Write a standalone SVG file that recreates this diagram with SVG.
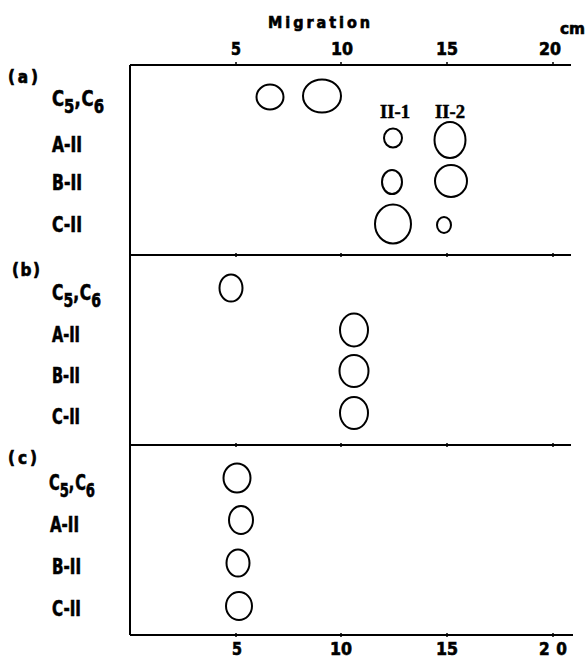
<svg xmlns="http://www.w3.org/2000/svg" width="587" height="659" viewBox="0 0 587 659">
<style>
.ax{stroke:#000;stroke-width:2;fill:none}
.tk{stroke:#000;stroke-width:1.5}
.sp{stroke:#000;stroke-width:2;fill:none}
.t{font-family:"Liberation Sans Narrow","DejaVu Sans Condensed","Liberation Sans",sans-serif;font-weight:bold;fill:#000;stroke:#000;stroke-width:0.6}
.lb{font-size:21px}
.sb{font-size:19px}
.n{font-size:17px;text-anchor:middle}
.p{font-size:17px}
.r{font-family:"Liberation Serif","DejaVu Serif",serif;font-weight:bold;font-size:19px;fill:#000;stroke:#000;stroke-width:0.5}
</style>
<rect width="587" height="659" fill="#fff"/>
<g id="axes">
<path class="ax" d="M130,65V635M130,65H571M130,255H571M130,445H571M130,635H573"/>
<path class="tk" d="M236,62V66M341,62V66M447,62V66M553,62V66M236,253V257M341,253V257M447,253V257M553,253V257M236,443V447M341,443V447M447,443V447M553,443V447M236,633V637M341,633V637M447,633V637M553,633V637"/>
</g>
<g id="scale">
<text class="t" x="268" y="28" font-size="16" textLength="102" lengthAdjust="spacing">Migration</text>
<text class="t" x="560" y="34" font-size="16" textLength="25" lengthAdjust="spacingAndGlyphs">cm</text>
<text class="t n" x="236" y="55" textLength="10" lengthAdjust="spacingAndGlyphs">5</text>
<text class="t n" x="342" y="55" textLength="22" lengthAdjust="spacingAndGlyphs">10</text>
<text class="t n" x="447" y="55" textLength="22" lengthAdjust="spacingAndGlyphs">15</text>
<text class="t n" x="550" y="55" textLength="22" lengthAdjust="spacingAndGlyphs">20</text>
<text class="t n" x="237" y="655" textLength="10" lengthAdjust="spacingAndGlyphs">5</text>
<text class="t n" x="341" y="655" textLength="22" lengthAdjust="spacingAndGlyphs">10</text>
<text class="t n" x="447" y="655" textLength="22" lengthAdjust="spacingAndGlyphs">15</text>
<text class="t n" x="553" y="655" textLength="28" lengthAdjust="spacing">20</text>
</g>
<g id="panel-a">
<text class="t p" x="8" y="83" textLength="30" lengthAdjust="spacing">(a)</text>
<text class="t lb" x="52" y="106" textLength="52" lengthAdjust="spacingAndGlyphs">C<tspan class="sb" dy="7">5</tspan><tspan dy="-7">,</tspan><tspan dx="1">C</tspan><tspan class="sb" dy="7">6</tspan></text>
<text class="t lb" x="52" y="152" textLength="30" lengthAdjust="spacingAndGlyphs">A-II</text>
<text class="t lb" x="52" y="190" textLength="30" lengthAdjust="spacingAndGlyphs">B-II</text>
<text class="t lb" x="52" y="232" textLength="30" lengthAdjust="spacingAndGlyphs">C-II</text>
<text class="r" x="380" y="118" textLength="30" lengthAdjust="spacingAndGlyphs">II-1</text>
<text class="r" x="435" y="118" textLength="30" lengthAdjust="spacingAndGlyphs">II-2</text>
<ellipse class="sp" cx="270" cy="97" rx="13.5" ry="12.5"/>
<ellipse class="sp" cx="322" cy="96" rx="19" ry="16.5"/>
<ellipse class="sp" cx="393" cy="138" rx="9" ry="9.5"/>
<ellipse class="sp" cx="450" cy="140" rx="15.5" ry="18"/>
<ellipse class="sp" cx="392" cy="182" rx="10" ry="12"/>
<ellipse class="sp" cx="451" cy="181" rx="16" ry="16"/>
<ellipse class="sp" cx="393" cy="224" rx="18" ry="19.5"/>
<ellipse class="sp" cx="444" cy="225" rx="7" ry="8"/>
</g>
<g id="panel-b">
<text class="t p" x="12" y="276" textLength="28" lengthAdjust="spacing">(b)</text>
<text class="t lb" x="52" y="300" textLength="49" lengthAdjust="spacingAndGlyphs">C<tspan class="sb" dy="7">5</tspan><tspan dy="-7">,</tspan><tspan dx="1">C</tspan><tspan class="sb" dy="7">6</tspan></text>
<text class="t lb" x="52" y="342" textLength="28" lengthAdjust="spacingAndGlyphs">A-II</text>
<text class="t lb" x="52" y="383" textLength="28" lengthAdjust="spacingAndGlyphs">B-II</text>
<text class="t lb" x="52" y="424" textLength="28" lengthAdjust="spacingAndGlyphs">C-II</text>
<ellipse class="sp" cx="231" cy="288" rx="11.5" ry="13.5"/>
<ellipse class="sp" cx="354" cy="330" rx="14" ry="16.5"/>
<ellipse class="sp" cx="354" cy="371" rx="14.5" ry="16"/>
<ellipse class="sp" cx="354" cy="413" rx="14" ry="16"/>
</g>
<g id="panel-c">
<text class="t p" x="8" y="464" textLength="29" lengthAdjust="spacing">(c)</text>
<text class="t lb" x="49" y="490" textLength="46" lengthAdjust="spacingAndGlyphs">C<tspan class="sb" dy="7">5</tspan><tspan dy="-7">,</tspan><tspan dx="1">C</tspan><tspan class="sb" dy="7">6</tspan></text>
<text class="t lb" x="50" y="532" textLength="29" lengthAdjust="spacingAndGlyphs">A-II</text>
<text class="t lb" x="52" y="574" textLength="29" lengthAdjust="spacingAndGlyphs">B-II</text>
<text class="t lb" x="52" y="616" textLength="29" lengthAdjust="spacingAndGlyphs">C-II</text>
<ellipse class="sp" cx="237" cy="478" rx="13.5" ry="14.5"/>
<ellipse class="sp" cx="241" cy="520" rx="12" ry="14"/>
<ellipse class="sp" cx="238" cy="563" rx="11.5" ry="13.5"/>
<ellipse class="sp" cx="239" cy="606" rx="13" ry="14"/>
</g>
</svg>
